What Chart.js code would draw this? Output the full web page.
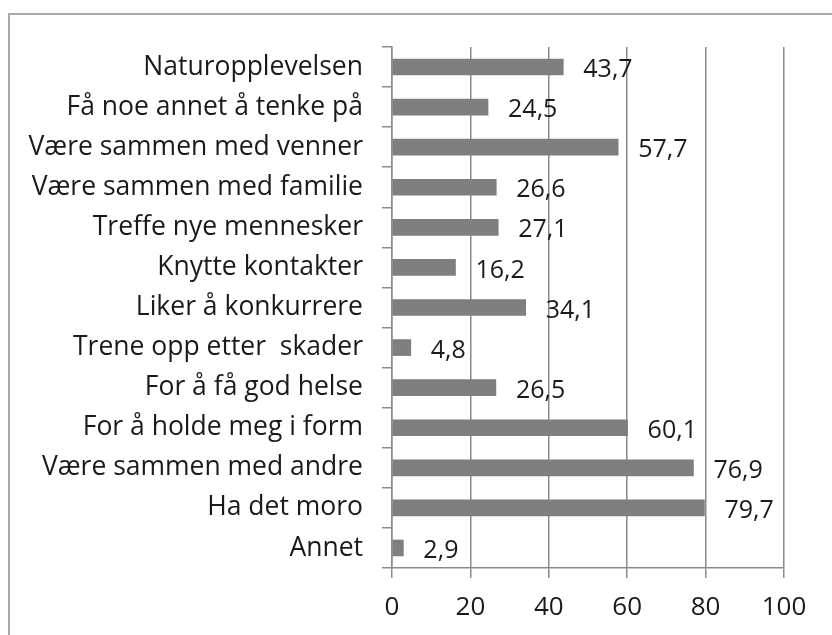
<!DOCTYPE html>
<html>
<head>
<meta charset="utf-8">
<script src="https://cdn.jsdelivr.net/npm/chart.js@4"></script>
<style>
html,body{margin:0;padding:0;background:#fff;}
#wrap{position:relative;width:832px;height:635px;}
</style>
</head>
<body>
<div id="wrap"><canvas id="c" width="832" height="635"></canvas></div>
<script>
const categories = [
  "Naturopplevelsen",
  "Få noe annet å tenke på",
  "Være sammen med venner",
  "Være sammen med familie",
  "Treffe nye mennesker",
  "Knytte kontakter",
  "Liker å konkurrere",
  "Trene opp etter  skader",
  "For å få god helse",
  "For å holde meg i form",
  "Være sammen med andre",
  "Ha det moro",
  "Annet"
];
const values = [43.7, 24.5, 57.7, 26.6, 27.1, 16.2, 34.1, 4.8, 26.5, 60.1, 76.9, 79.7, 2.9];
const valueLabels = ["43,7","24,5","57,7","26,6","27,1","16,2","34,1","4,8","26,5","60,1","76,9","79,7","2,9"];
const xTicks = [0, 20, 40, 60, 80, 100];

const FONT = "'Open Sans', sans-serif";
const frame = {
  id: 'frame',
  beforeDraw(chart) {
    const ctx = chart.ctx;
    ctx.save();
    ctx.strokeStyle = '#a9a9a9';
    ctx.lineWidth = 2;
    ctx.beginPath();
    ctx.moveTo(9, 640);
    ctx.lineTo(9, 14);
    ctx.lineTo(840, 14);
    ctx.stroke();
    ctx.restore();
  }
};
const dataLabels = {
  id: 'dataLabels',
  afterDatasetsDraw(chart) {
    const ctx = chart.ctx;
    const meta = chart.getDatasetMeta(0);
    ctx.save();
    ctx.font = '25px ' + FONT;
    ctx.fillStyle = '#1a1a1a';
    ctx.textAlign = 'left';
    ctx.textBaseline = 'middle';
    meta.data.forEach((bar, i) => {
      ctx.fillText(valueLabels[i], bar.x + 20, bar.y + 3);
    });
    ctx.restore();
  }
};

new Chart(document.getElementById('c'), {
  type: 'bar',
  data: {
    labels: categories,
    datasets: [{
      data: values,
      backgroundColor: '#7f7f7f',
      borderWidth: 0,
      barThickness: 16
    }]
  },
  options: {
    indexAxis: 'y',
    responsive: false,
    animation: false,
    devicePixelRatio: 1,
    layout: { padding: { left: 0, right: 48, top: 47, bottom: 0 } },
    plugins: { legend: { display: false }, tooltip: { enabled: false } },
    scales: {
      x: {
        min: 0, max: 100,
        afterBuildTicks(scale) { scale.ticks = xTicks.map(v => ({ value: v })); },
        afterFit(scale) { scale.height = 67; },
        grid: { color: '#8a8a8a', lineWidth: 1.5, tickLength: 10, drawTicks: true },
        border: { display: true, color: '#8a8a8a', width: 1.5 },
        ticks: { color: '#1a1a1a', font: { family: FONT, size: 26 }, padding: 14, maxRotation: 0 }
      },
      y: {
        afterFit(scale) { scale.width = 392; },
        grid: { offset: true, drawOnChartArea: false, color: '#8a8a8a', lineWidth: 1.5, tickLength: 10 },
        border: { display: true, color: '#8a8a8a', width: 1.5 },
        ticks: { color: '#1a1a1a', font: { family: FONT, size: 26.5 }, padding: 19, autoSkip: false }
      }
    }
  },
  plugins: [frame, dataLabels]
});
</script>
</body>
</html>
